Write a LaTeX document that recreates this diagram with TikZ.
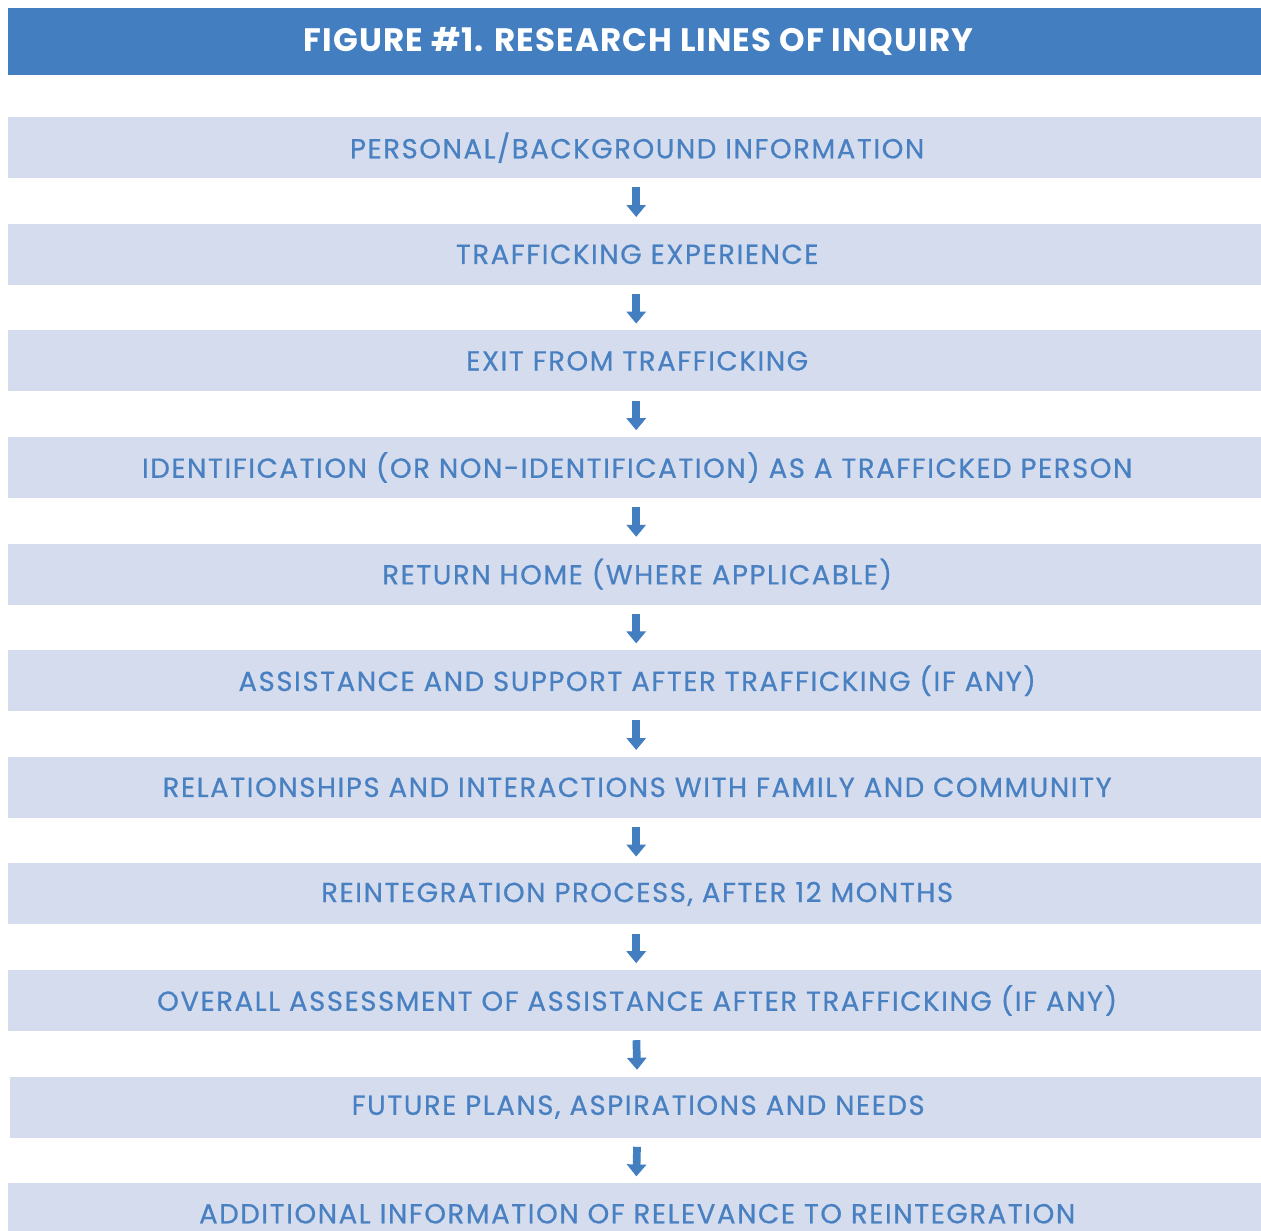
\documentclass[tikz,border=0pt]{standalone}
\usepackage{fontspec}
\setmainfont{Poppins}
\newfontfamily\hdrfont{Poppins}[LetterSpace=3.3]
\newfontfamily\boxfont{Poppins}[LetterSpace=5.8,FakeBold=0.6]
\usetikzlibrary{arrows.meta}
\definecolor{hdrblue}{RGB}{67,127,192}
\definecolor{boxfill}{RGB}{212,220,238}
\definecolor{txtblue}{RGB}{72,128,193}
\tikzset{
  header/.style={fill=hdrblue, draw=none, minimum width=1253pt, minimum height=67pt, inner sep=0pt, anchor=north west,
    text=white, font=\hdrfont\fontsize{32.5}{36}\selectfont\bfseries, execute at begin node={\hspace*{8pt}}},
  stagebox/.style={fill=boxfill, draw=none, minimum width=1253pt, minimum height=61pt, inner sep=0pt, anchor=north west,
    text=txtblue, font=\boxfont\fontsize{27.5}{30}\selectfont, execute at begin node={\hspace*{5pt}}},
  flowarrow/.style={draw=hdrblue, line width=7.7pt, -{Triangle[width=19pt,length=12pt]}, shorten <=9pt, shorten >=6.6pt}
}
\begin{document}
\begin{tikzpicture}[x=1pt,y=-1pt]
\clip (0,0) rectangle (1261,1231);
\fill[white] (0,0) rectangle (1261,1231);
\node[header] (hdr) at (8,8) {FIGURE \#1. RESEARCH LINES OF INQUIRY};
\node[stagebox] (b1) at (8,117) {PERSONAL/BACKGROUND INFORMATION};
\node[stagebox] (b2) at (8,223.6) {TRAFFICKING EXPERIENCE};
\node[stagebox] (b3) at (8,330.2) {EXIT FROM TRAFFICKING};
\node[stagebox] (b4) at (8,436.8) {IDENTIFICATION (OR NON-IDENTIFICATION) AS A TRAFFICKED PERSON};
\node[stagebox] (b5) at (8,543.4) {RETURN HOME (WHERE APPLICABLE)};
\node[stagebox] (b6) at (8,650) {ASSISTANCE AND SUPPORT AFTER TRAFFICKING (IF ANY)};
\node[stagebox] (b7) at (8,756.6) {RELATIONSHIPS AND INTERACTIONS WITH FAMILY AND COMMUNITY};
\node[stagebox] (b8) at (8,863.2) {REINTEGRATION PROCESS, AFTER 12 MONTHS};
\node[stagebox] (b9) at (8,969.8) {OVERALL ASSESSMENT OF ASSISTANCE AFTER TRAFFICKING (IF ANY)};
\node[stagebox, minimum width=1251pt] (b10) at (10,1076.4) {FUTURE PLANS, ASPIRATIONS AND NEEDS};
\node[stagebox] (b11) at (8,1183) {ADDITIONAL INFORMATION OF RELEVANCE TO REINTEGRATION};
\foreach \a/\b in {b1/b2,b2/b3,b3/b4,b4/b5,b5/b6,b6/b7,b7/b8,b8/b9,b9/b10,b10/b11}{
  \draw[flowarrow] ([xshift=1.5pt]\a.south) -- ([xshift=1.5pt]\b.north);
}
\end{tikzpicture}
\end{document}
